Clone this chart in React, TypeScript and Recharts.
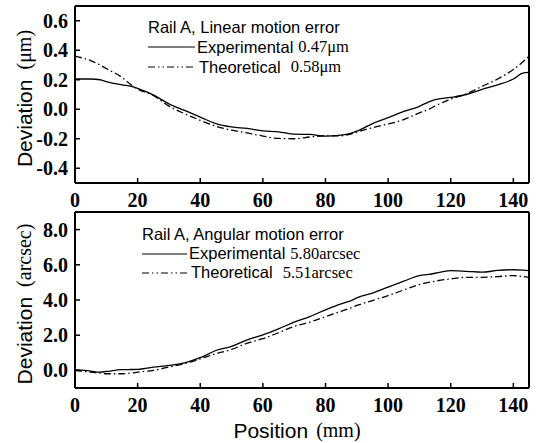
import { LineChart, Line, XAxis, YAxis, Legend } from 'recharts';

// Position along the rail (mm)
const positions = [0, 5, 8, 10, 15, 18, 20, 25, 30, 35, 40, 45, 50, 55, 60, 65, 70, 75, 80, 85, 88, 90, 95, 100, 105, 110, 113, 115, 120, 125, 130, 135, 140, 143, 145];

// Linear motion error (um)
const linearExperimental = [0.205, 0.205, 0.2, 0.187, 0.165, 0.155, 0.142, 0.097, 0.037, -0.008, -0.053, -0.097, -0.12, -0.13, -0.147, -0.153, -0.169, -0.171, -0.182, -0.176, -0.164, -0.149, -0.097, -0.057, -0.015, 0.02, 0.05, 0.065, 0.08, 0.1, 0.135, 0.165, 0.205, 0.245, 0.25];
const linearTheoretical = [0.36, 0.33, 0.3, 0.276, 0.216, 0.165, 0.137, 0.093, 0.021, -0.03, -0.075, -0.115, -0.142, -0.16, -0.182, -0.198, -0.2, -0.188, -0.18, -0.18, -0.168, -0.155, -0.125, -0.1, -0.07, -0.025, 0.0, 0.022, 0.068, 0.105, 0.155, 0.205, 0.27, 0.32, 0.36];

// Angular motion error (arcsec)
const angularExperimental = [0.04, -0.04, -0.1, -0.06, 0.04, 0.05, 0.06, 0.19, 0.28, 0.43, 0.72, 1.13, 1.36, 1.74, 2.02, 2.36, 2.74, 3.06, 3.44, 3.78, 3.95, 4.12, 4.39, 4.73, 5.07, 5.39, 5.45, 5.52, 5.67, 5.63, 5.58, 5.68, 5.72, 5.7, 5.67];
const angularTheoretical = [0, -0.1, -0.15, -0.19, -0.19, -0.15, -0.1, 0, 0.19, 0.38, 0.66, 0.95, 1.19, 1.55, 1.8, 2.14, 2.5, 2.74, 3.06, 3.36, 3.55, 3.69, 3.97, 4.25, 4.57, 4.88, 5.0, 5.07, 5.2, 5.29, 5.29, 5.33, 5.39, 5.33, 5.29];

const positionTicks = [0, 20, 40, 60, 80, 100, 120, 140];
const linearTicks = [-0.4, -0.2, 0, 0.2, 0.4, 0.6];
const angularTicks = [0, 2, 4, 6, 8];

const SANS = 'Liberation Sans, Arial, sans-serif';
const SERIF = 'Liberation Serif, Times New Roman, serif';
const DASH_DOT = '7 3 1.5 3';

const linearData = positions.map((pos, i) => ({ pos, exp: linearExperimental[i], theo: linearTheoretical[i] }));
const angularData = positions.map((pos, i) => ({ pos, exp: angularExperimental[i], theo: angularTheoretical[i] }));

const tickFont = { fontFamily: SERIF, fontSize: 20, fontWeight: 'bold' as const };

const XTick = (props: any) => (
  <text x={props.x} y={props.y} dy={14} textAnchor="middle" fill="#000" style={tickFont}>
    {props.payload.value}
  </text>
);

const YTick = (props: any) => (
  <text x={props.x} y={props.y} dy={7} textAnchor="end" fill="#000" style={tickFont}>
    {Number(props.payload.value).toFixed(1)}
  </text>
);

function yLabel(unit: string) {
  return (props: any) => {
    const vb = props.viewBox || {};
    const cx = 24;
    const cy = (vb.y ?? 0) + (vb.height ?? 0) / 2 + 4;
    return (
      <text x={cx} y={cy} transform={`rotate(-90, ${cx}, ${cy})`} textAnchor="middle" dominantBaseline="central" fill="#000">
        <tspan style={{ fontFamily: SANS, fontSize: 21 }}>Deviation</tspan>
        <tspan dx={10} style={{ fontFamily: SERIF, fontSize: 20 }}>({unit})</tspan>
      </text>
    );
  };
}

const xLabel = (props: any) => {
  const vb = props.viewBox || {};
  const cx = (vb.x ?? 0) + (vb.width ?? 0) / 2 - 5;
  const cy = (vb.y ?? 0) + 42;
  return (
    <text x={cx} y={cy} textAnchor="middle" dominantBaseline="central" fill="#000">
      <tspan style={{ fontFamily: SANS, fontSize: 21 }}>Position</tspan>
      <tspan dx={8} style={{ fontFamily: SERIF, fontSize: 20 }}>(mm)</tspan>
    </text>
  );
};

function legendBox(title: string, expValue: string, theoValue: string, rowH: number, lineW: number) {
  return () => (
    <div style={{ fontFamily: SANS, fontSize: 16.5, color: '#000', lineHeight: `${rowH}px` }}>
      <div style={{ height: rowH, whiteSpace: 'nowrap' }}>{title}</div>
      <div style={{ height: rowH, display: 'flex', alignItems: 'center', whiteSpace: 'nowrap' }}>
        <svg width={lineW} height={6}><line x1={0} y1={3} x2={lineW} y2={3} stroke="#000" strokeWidth={1.2} /></svg>
        <span style={{ marginLeft: 2 }}>Experimental</span>
        <span style={{ marginLeft: 5, fontFamily: SERIF }}>{expValue}</span>
      </div>
      <div style={{ height: rowH, display: 'flex', alignItems: 'center', whiteSpace: 'nowrap' }}>
        <svg width={lineW} height={6}><line x1={0} y1={3} x2={lineW} y2={3} stroke="#000" strokeWidth={1.2} strokeDasharray="7 3 1.5 3 1.5 3" /></svg>
        <span style={{ marginLeft: 4 }}>Theoretical</span>
        <span style={{ marginLeft: 10, fontFamily: SERIF }}>{theoValue}</span>
      </div>
    </div>
  );
}

function Panel(props: {
  data: any[];
  height: number;
  top: number;
  xAxisHeight: number;
  yDomain: [number, number];
  yTicks: number[];
  unit: string;
  legend: () => any;
  legendLeft: number;
  legendTop: number;
  showXLabel?: boolean;
}) {
  return (
    <LineChart
      width={543}
      height={props.height}
      data={props.data}
      margin={{ top: props.top, right: 13, left: 0, bottom: 0 }}
    >
      <XAxis
        dataKey="pos"
        type="number"
        domain={[0, 145]}
        ticks={positionTicks}
        height={props.xAxisHeight}
        stroke="#000"
        axisLine={{ stroke: '#000', strokeWidth: 2 }}
        tickLine={{ stroke: '#000', strokeWidth: 1.5 }}
        tickSize={-5}
        tickMargin={15}
        tick={XTick}
        label={props.showXLabel ? xLabel : undefined}
      />
      <XAxis xAxisId="top" orientation="top" dataKey="pos" type="number" domain={[0, 145]} height={1} tick={false} tickLine={false} axisLine={{ stroke: '#000', strokeWidth: 2 }} />
      <YAxis
        type="number"
        domain={props.yDomain}
        ticks={props.yTicks}
        width={75}
        stroke="#000"
        axisLine={{ stroke: '#000', strokeWidth: 2 }}
        tickLine={{ stroke: '#000', strokeWidth: 1.5 }}
        tickSize={-5}
        tickMargin={12}
        tick={YTick}
        label={yLabel(props.unit)}
      />
      <YAxis yAxisId="right" orientation="right" domain={props.yDomain} width={1} tick={false} tickLine={false} axisLine={{ stroke: '#000', strokeWidth: 2 }} />
      <Legend
        layout="horizontal"
        verticalAlign="middle"
        align="center"
        content={props.legend}
        wrapperStyle={{ left: props.legendLeft, top: props.legendTop, width: 280 }}
      />
      <Line type="monotone" dataKey="exp" name="Experimental" stroke="#000" strokeWidth={1.3} dot={false} isAnimationActive={false} />
      <Line type="monotone" dataKey="theo" name="Theoretical" stroke="#000" strokeWidth={1.3} strokeDasharray={DASH_DOT} dot={false} isAnimationActive={false} />
    </LineChart>
  );
}

export default function App() {
  return (
    <div style={{ position: 'absolute', left: 0, top: 0, width: 543, height: 443, background: '#fff' }}>
      <Panel
        data={linearData}
        height={210}
        top={5}
        xAxisHeight={27}
        yDomain={[-0.5, 0.7]}
        yTicks={linearTicks}
        unit="μm"
        legend={legendBox('Rail A, Linear motion error', '0.47μm', '0.58μm', 20, 47)}
        legendLeft={148}
        legendTop={17}
      />
      <Panel
        data={angularData}
        height={233}
        top={1}
        xAxisHeight={55}
        yDomain={[-1, 9]}
        yTicks={angularTicks}
        unit="arcsec"
        legend={legendBox('Rail A, Angular motion error', '5.80arcsec', '5.51arcsec', 19, 45)}
        legendLeft={142}
        legendTop={15}
        showXLabel
      />
    </div>
  );
}
